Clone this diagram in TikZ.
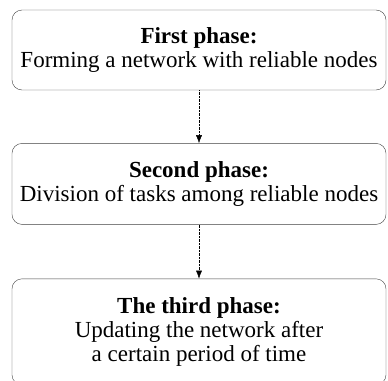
\documentclass[tikz,border=0pt]{standalone}
\usepackage{fontspec}
\setmainfont{Liberation Serif}
\usepackage{tikz}
\usetikzlibrary{shapes.geometric, arrows.meta, positioning}

\begin{document}
\begin{tikzpicture}[
    phasebox/.style={draw=black!75, thin, rounded corners=10pt, minimum width=374pt,
        align=center, font=\fontsize{23}{24}\selectfont, inner sep=0pt},
    flow/.style={-{Latex[length=8pt,width=6pt]}, densely dotted, thin}
]
\useasboundingbox (0,0) rectangle (388pt,-380pt);

% Phases
\node[phasebox, minimum height=80pt] (first) at (199pt,-50pt)
    {\textbf{First phase:}\\Forming a network with reliable nodes};
\node[phasebox, minimum height=81pt, below=53pt of first] (second)
    {\textbf{Second phase:}\\Division of tasks among reliable nodes};
\node[phasebox, minimum height=106pt, below=54pt of second] (third)
    {\textbf{The third phase:}\\Updating the network after\\a certain period of time};

% Arrows
\draw[flow] (first) -- (second);
\draw[flow] (second) -- (third);

\end{tikzpicture}
\end{document}
